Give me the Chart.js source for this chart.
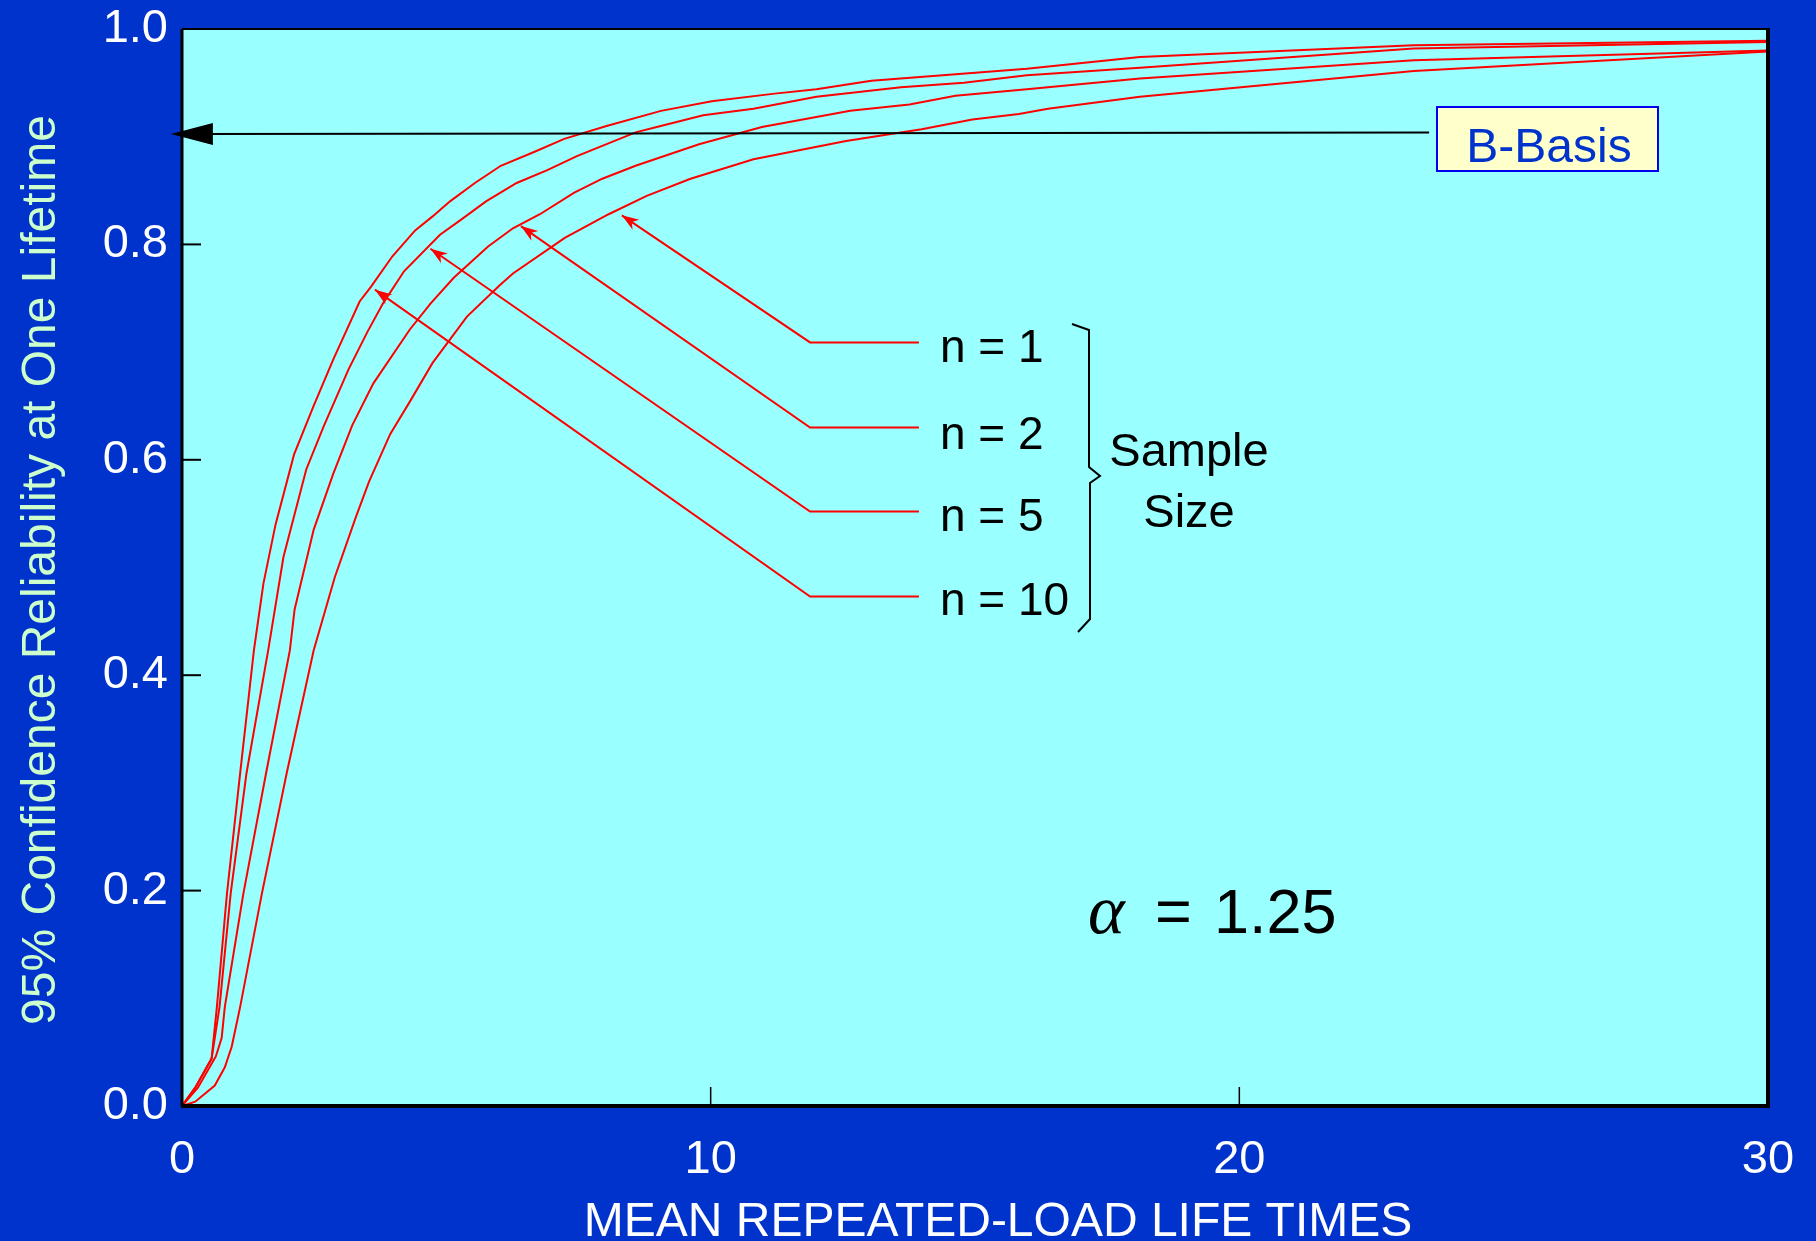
<!DOCTYPE html>
<html>
<head>
<meta charset="utf-8">
<script src="https://cdn.jsdelivr.net/npm/chart.js@4.4.1/dist/chart.umd.min.js"></script>
<style>
  html, body { margin: 0; padding: 0; background: #0033cc; }
  canvas { display: block; }
</style>
</head>
<body>
<canvas id="chart" width="1816" height="1241"></canvas>
<script>
// axis ranges / ticks
const xMin = 0, xMax = 30, xStep = 10;
const yMin = 0, yMax = 1.0, yStep = 0.2;

// n = 10 (highest curve)
const n10X = [0, 0.25, 0.56, 0.66, 0.85, 1.10, 1.36, 1.54, 1.77, 2.12, 2.49, 2.86, 3.36, 3.58, 3.98, 4.41, 4.74, 5.07, 5.54, 6.03, 6.67, 7.23, 8.03, 9.06, 10.02, 11.21, 12.00, 13.04, 14.39, 15.98, 18.12, 23.3, 30];
const n10Y = [0, 0.017, 0.044, 0.092, 0.197, 0.309, 0.423, 0.485, 0.540, 0.605, 0.650, 0.693, 0.747, 0.761, 0.789, 0.813, 0.826, 0.840, 0.857, 0.873, 0.886, 0.898, 0.910, 0.924, 0.933, 0.940, 0.944, 0.952, 0.957, 0.963, 0.974, 0.985, 0.989];
// n = 5
const n5X = [0, 0.25, 0.56, 0.71, 0.92, 1.22, 1.63, 1.92, 2.35, 2.68, 3.15, 3.51, 3.80, 4.20, 4.88, 5.28, 5.75, 6.33, 6.91, 7.47, 8.58, 8.98, 9.86, 10.81, 12.00, 13.60, 14.79, 15.98, 18.12, 23.3, 30];
const n5Y = [0, 0.017, 0.044, 0.092, 0.197, 0.309, 0.423, 0.510, 0.591, 0.631, 0.684, 0.719, 0.745, 0.775, 0.809, 0.823, 0.840, 0.857, 0.869, 0.882, 0.904, 0.909, 0.920, 0.926, 0.937, 0.946, 0.950, 0.957, 0.964, 0.982, 0.988];
// n = 2
const n2X = [0, 0.3, 0.64, 0.75, 0.81, 1.16, 1.59, 2.04, 2.13, 2.49, 2.86, 3.22, 3.62, 4.31, 4.70, 5.14, 5.79, 6.26, 6.77, 7.42, 7.95, 8.58, 9.78, 10.97, 12.64, 13.76, 14.63, 15.98, 18.12, 23.3, 30];
const n2Y = [0, 0.017, 0.046, 0.063, 0.092, 0.197, 0.309, 0.423, 0.461, 0.535, 0.587, 0.632, 0.671, 0.721, 0.745, 0.769, 0.798, 0.815, 0.828, 0.848, 0.861, 0.873, 0.893, 0.909, 0.924, 0.930, 0.938, 0.944, 0.954, 0.971, 0.980];
// n = 1 (lowest curve)
const n1X = [0, 0.25, 0.62, 0.81, 0.94, 1.10, 1.51, 1.98, 2.49, 2.89, 3.29, 3.54, 3.94, 4.31, 4.74, 5.39, 6.01, 6.26, 7.24, 8.07, 8.79, 9.62, 10.81, 12.56, 13.99, 14.95, 15.83, 16.38, 18.12, 23.3, 30];
const n1Y = [0, 0.004, 0.019, 0.036, 0.055, 0.092, 0.197, 0.309, 0.423, 0.491, 0.547, 0.580, 0.624, 0.654, 0.690, 0.733, 0.762, 0.773, 0.806, 0.828, 0.845, 0.861, 0.879, 0.896, 0.907, 0.916, 0.921, 0.926, 0.937, 0.961, 0.979];

const sampleLabels = ['n = 1', 'n = 2', 'n = 5', 'n = 10'];

const FONT = '"Liberation Sans", Arial, Helvetica, sans-serif';

function pts(xs, ys) {
  return xs.map((x, i) => ({ x: x, y: ys[i] }));
}

function arrowHead(ctx, fx, fy, tx, ty, len, half, notch) {
  const a = Math.atan2(ty - fy, tx - fx);
  const c = Math.cos(a), s = Math.sin(a);
  ctx.beginPath();
  ctx.moveTo(tx, ty);
  ctx.lineTo(tx - len * c + half * s, ty - len * s - half * c);
  ctx.lineTo(tx - (len - notch) * c, ty - (len - notch) * s);
  ctx.lineTo(tx - len * c - half * s, ty - len * s + half * c);
  ctx.closePath();
  ctx.fill();
}

const decor = {
  id: 'decor',
  beforeDraw(chart) {
    const ctx = chart.ctx, a = chart.chartArea;
    ctx.save();
    ctx.fillStyle = '#0033cc';
    ctx.fillRect(0, 0, chart.width, chart.height);
    ctx.fillStyle = '#99ffff';
    ctx.fillRect(a.left, a.top, a.right - a.left, a.bottom - a.top);
    ctx.restore();
  },
  afterDatasetsDraw(chart) {
    const ctx = chart.ctx, a = chart.chartArea;
    const xs = chart.scales.x, ys = chart.scales.y;
    ctx.save();

    // frame
    ctx.strokeStyle = '#000';
    ctx.lineWidth = 2;
    ctx.beginPath(); ctx.moveTo(a.left, a.top); ctx.lineTo(a.right, a.top); ctx.stroke();
    ctx.lineWidth = 3;
    ctx.beginPath(); ctx.moveTo(a.left, a.top); ctx.lineTo(a.left, a.bottom); ctx.stroke();
    ctx.lineWidth = 4;
    ctx.beginPath(); ctx.moveTo(a.left - 1, a.bottom); ctx.lineTo(a.right + 2, a.bottom); ctx.stroke();
    ctx.beginPath(); ctx.moveTo(a.right, a.top - 1); ctx.lineTo(a.right, a.bottom); ctx.stroke();

    // inner tick marks
    ctx.lineWidth = 2;
    for (let v = yStep; v < yMax - 0.01; v += yStep) {
      const py = ys.getPixelForValue(v);
      ctx.beginPath(); ctx.moveTo(a.left, py); ctx.lineTo(a.left + 19, py); ctx.stroke();
    }
    ctx.lineWidth = 1.5;
    for (let v = xStep; v < xMax; v += xStep) {
      const px = xs.getPixelForValue(v);
      ctx.beginPath(); ctx.moveTo(px, a.bottom); ctx.lineTo(px, a.bottom - 19); ctx.stroke();
    }

    // B-Basis arrow
    const bx1 = xs.getPixelForValue(23.59), by1 = ys.getPixelForValue(0.904);
    const bx0 = xs.getPixelForValue(-0.21), by0 = ys.getPixelForValue(0.9025);
    ctx.lineWidth = 2;
    ctx.beginPath(); ctx.moveTo(bx1, by1); ctx.lineTo(bx0 + 30, by0); ctx.stroke();
    ctx.fillStyle = '#000';
    arrowHead(ctx, bx1, by1, bx0, by0, 42, 11, 0);

    // B-Basis box
    ctx.fillStyle = '#ffffcc';
    ctx.fillRect(1437, 107, 221, 64);
    ctx.strokeStyle = '#0000ee';
    ctx.lineWidth = 2;
    ctx.strokeRect(1437, 107, 221, 64);
    ctx.fillStyle = '#0033cc';
    ctx.font = '48px ' + FONT;
    ctx.textAlign = 'center';
    ctx.textBaseline = 'alphabetic';
    ctx.fillText('B-Basis', 1549, 162);

    // sample size leaders
    const elbowX = [11.88, 11.88, 11.88, 11.88];
    const endX = [13.94, 13.94, 13.94, 13.94];
    const elbowY = [0.709, 0.630, 0.552, 0.473];
    const tipX = [8.32, 6.41, 4.70, 3.65];
    const tipY = [0.827, 0.817, 0.796, 0.758];
    ctx.strokeStyle = '#ff0000';
    ctx.fillStyle = '#ff0000';
    ctx.lineWidth = 2;
    for (let i = 0; i < 4; i++) {
      const ex = xs.getPixelForValue(elbowX[i]), ey = ys.getPixelForValue(elbowY[i]);
      const hx = xs.getPixelForValue(endX[i]);
      const tx = xs.getPixelForValue(tipX[i]), ty = ys.getPixelForValue(tipY[i]);
      ctx.beginPath();
      ctx.moveTo(hx, ey); ctx.lineTo(ex, ey); ctx.lineTo(tx, ty);
      ctx.stroke();
      arrowHead(ctx, ex, ey, tx, ty, 17, 6, 5);
    }

    // labels
    ctx.fillStyle = '#000';
    ctx.font = '46px ' + FONT;
    ctx.textAlign = 'left';
    const labelBase = [362, 449, 531, 615];
    sampleLabels.forEach((t, i) => ctx.fillText(t, 940, labelBase[i]));

    // brace
    ctx.strokeStyle = '#000';
    ctx.lineWidth = 2;
    ctx.beginPath();
    ctx.moveTo(1072, 324); ctx.lineTo(1089, 330); ctx.lineTo(1089, 467);
    ctx.lineTo(1100, 476); ctx.lineTo(1090, 483); ctx.lineTo(1090, 619);
    ctx.lineTo(1078, 632);
    ctx.stroke();

    ctx.font = '47px ' + FONT;
    ctx.textAlign = 'center';
    ctx.fillText('Sample', 1189, 466);
    ctx.fillText('Size', 1189, 527);

    // alpha
    ctx.textAlign = 'left';
    ctx.font = 'italic 70px "Liberation Serif", "Times New Roman", serif';
    ctx.fillText('\u03b1', 1088, 933);
    ctx.font = '63px ' + FONT;
    ctx.fillText('=', 1155, 933);
    ctx.fillText('1.25', 1214, 933);

    // axis titles
    ctx.fillStyle = '#ffffff';
    ctx.font = '48px ' + FONT;
    ctx.textAlign = 'center';
    ctx.fillText('MEAN REPEATED-LOAD LIFE TIMES', 998, 1236);

    ctx.save();
    ctx.translate(55, 570);
    ctx.rotate(-Math.PI / 2);
    ctx.fillStyle = '#ccffcc';
    ctx.fillText('95% Confidence Reliability at One Lifetime', 0, 0);
    ctx.restore();

    ctx.restore();
  }
};

Chart.defaults.font.family = FONT;

const line = (data) => ({
  data: data,
  borderColor: '#ff0000',
  borderWidth: 2,
  pointRadius: 0,
  tension: 0,
  fill: false
});

new Chart(document.getElementById('chart').getContext('2d'), {
  type: 'line',
  data: {
    datasets: [
      Object.assign(line(pts(n10X, n10Y)), { label: 'n = 10' }),
      Object.assign(line(pts(n5X, n5Y)), { label: 'n = 5' }),
      Object.assign(line(pts(n2X, n2Y)), { label: 'n = 2' }),
      Object.assign(line(pts(n1X, n1Y)), { label: 'n = 1' })
    ]
  },
  options: {
    responsive: false,
    animation: false,
    devicePixelRatio: 1,
    layout: { padding: { top: 29, right: 48, left: 0, bottom: 0 } },
    plugins: { legend: { display: false }, tooltip: { enabled: false } },
    scales: {
      x: {
        type: 'linear',
        min: xMin, max: xMax,
        grid: { display: false, drawTicks: false },
        border: { display: false },
        ticks: { stepSize: xStep, color: '#ffffff', padding: 26, font: { size: 47 } },
        afterFit(s) { s.height = 135; s.paddingLeft = 0; s.paddingRight = 0; }
      },
      y: {
        min: yMin, max: yMax,
        grid: { display: false, drawTicks: false },
        border: { display: false },
        ticks: {
          stepSize: yStep, color: '#ffffff', padding: 14, font: { size: 47 },
          callback: (v) => v.toFixed(1)
        },
        afterFit(s) { s.width = 182; s.paddingTop = 0; s.paddingBottom = 0; }
      }
    }
  },
  plugins: [decor]
});
</script>
</body>
</html>
